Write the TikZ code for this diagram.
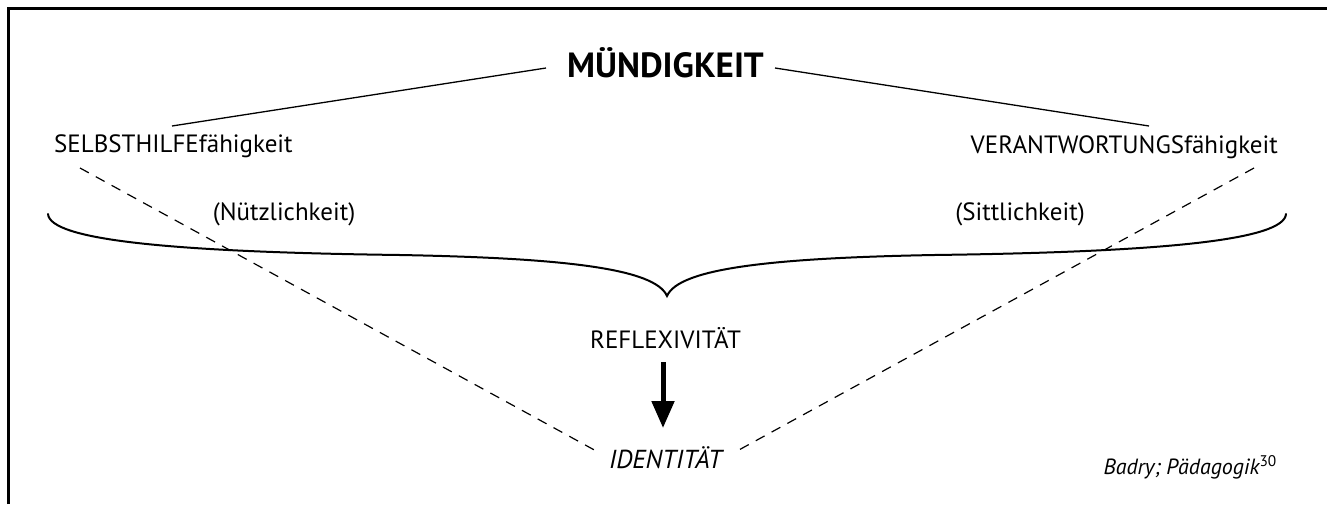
\documentclass[tikz,border=0pt]{standalone}
\usepackage{fontspec}
\setmainfont{PT Sans}
\usetikzlibrary{arrows.meta}
\begin{document}
\begin{tikzpicture}[x=1pt,y=-1pt,
  lbl/.style={inner sep=0pt,font=\fontsize{25}{30}\selectfont},
  ttl/.style={inner sep=0pt,font=\bfseries\fontsize{35}{42}\selectfont},
  src/.style={inner sep=0pt,font=\itshape\fontsize{22}{26}\selectfont},
  solidline/.style={line width=1.3pt},
  dashline/.style={line width=1.2pt,dash pattern=on 10pt off 8pt},
  bracestyle/.style={line width=2pt,line cap=round},
  bigarrow/.style={line width=5pt,-{Triangle[length=27pt,width=22pt]}}]
\useasboundingbox (0,0) rectangle (1327,504);
% frame (only top and left edges visible)
\draw[line width=3pt] (8.8,504) -- (8.8,8.8) -- (1327,8.8);
% texts
\node[ttl] (title) at (665.5,63) {MÜNDIGKEIT};
\node[lbl,anchor=base west] (selbst) at (54,152) {SELBSTHILFEfähigkeit};
\node[lbl,anchor=base east] (verant) at (1278,153) {VERANTWORTUNGSfähigkeit};
\node[lbl] (nuetz) at (284,214) {(Nützlichkeit)};
\node[lbl] (sitt) at (1020,214) {(Sittlichkeit)};
\node[lbl] (reflex) at (665.5,338) {REFLEXIVITÄT};
\node[lbl,font=\itshape\fontsize{26}{31}\selectfont] (ident) at (665.5,458) {IDENTITÄT};
\node[src,anchor=base east] (badry) at (1277,474) {Badry; Pädagogik\textsuperscript{\upshape 30}};
% connector end points
\coordinate (tl) at (546,68);
\coordinate (tr) at (775,68);
\coordinate (sl) at (172,126);
\coordinate (sr) at (1149,126);
\coordinate (dl) at (80,168);
\coordinate (dr) at (1254,168);
\coordinate (il) at (598,452);
\coordinate (ir) at (737,451);
\coordinate (a1) at (663,362);
\coordinate (a2) at (663,428);
% solid lines from title
\draw[solidline] (tl) -- (sl);
\draw[solidline] (tr) -- (sr);
% dashed lines to identity
\draw[dashline] (dl) -- (il);
\draw[dashline] (dr) -- (ir);
% brace
\draw[bracestyle] (48,214) .. controls (50,240) and (170,252) .. (400,255)
  .. controls (560,258) and (655,268) .. (667,296)
  .. controls (679,268) and (774,258) .. (934,255)
  .. controls (1164,252) and (1284,240) .. (1286,214);
% arrow
\draw[bigarrow] (a1) -- (a2);
\end{tikzpicture}
\end{document}
